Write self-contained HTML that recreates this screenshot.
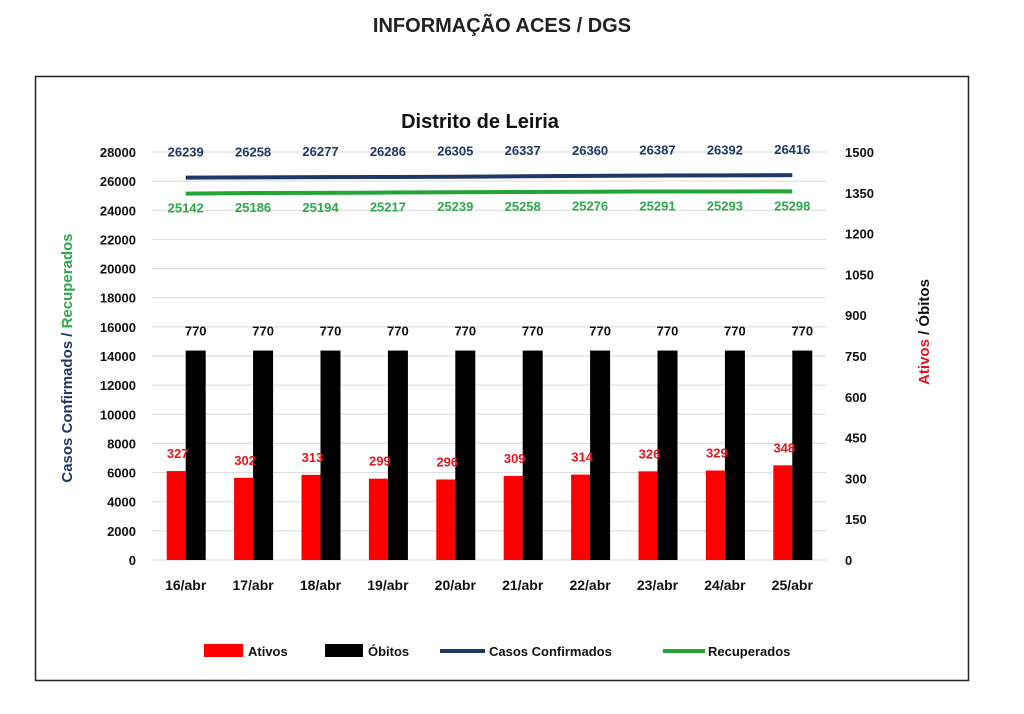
<!DOCTYPE html>
<html><head><meta charset="utf-8"><style>
body{margin:0;background:#fff;width:1024px;height:709px;overflow:hidden;font-family:"Liberation Sans",sans-serif}
</style></head><body>
<svg width="1024" height="709" font-family="Liberation Sans, sans-serif">
<text x="502" y="32" text-anchor="middle" font-size="20" font-weight="bold" fill="#222">INFORMAÇÃO ACES / DGS</text>
<rect x="35.5" y="76.5" width="933" height="604" fill="none" stroke="#222" stroke-width="1.5"/>
<text x="480" y="128" text-anchor="middle" font-size="20" font-weight="bold" fill="#111">Distrito de Leiria</text>
<g id="grid"></g><g id="bars"></g><g id="lines"></g><g id="labels"></g><g id="axes"></g>
<text transform="translate(72,358) rotate(-90)" text-anchor="middle" font-size="15" font-weight="bold"><tspan fill="#1f3864">Casos Confirmados / </tspan><tspan fill="#2ea84a">Recuperados</tspan></text>
<text transform="translate(929,332) rotate(-90)" text-anchor="middle" font-size="15" font-weight="bold"><tspan fill="#e8141c">Ativos</tspan><tspan fill="#111"> / Óbitos</tspan></text>
<g font-size="13" font-weight="bold" fill="#111">
<rect x="204" y="644" width="39" height="13" fill="#ff0000"/>
<text x="248" y="656">Ativos</text>
<rect x="325" y="644" width="38" height="13" fill="#000"/>
<text x="368" y="656">Óbitos</text>
<rect x="440" y="649" width="45" height="4" fill="#1f3864"/>
<text x="489" y="656">Casos Confirmados</text>
<rect x="663" y="649" width="42" height="4" fill="#22a535"/>
<text x="708" y="656">Recuperados</text>
</g>
</svg>
<script>
const categories=["16/abr","17/abr","18/abr","19/abr","20/abr","21/abr","22/abr","23/abr","24/abr","25/abr"];
const casos=[26239,26258,26277,26286,26305,26337,26360,26387,26392,26416];
const recuperados=[25142,25186,25194,25217,25239,25258,25276,25291,25293,25298];
const ativos=[327,302,313,299,296,309,314,326,329,348];
const obitos=[770,770,770,770,770,770,770,770,770,770];
const leftTicks=[0,2000,4000,6000,8000,10000,12000,14000,16000,18000,20000,22000,24000,26000,28000];
const rightTicks=[0,150,300,450,600,750,900,1050,1200,1350,1500];
const NS="http://www.w3.org/2000/svg";
const X0=152,X1=826,Y0=560,Y1=152;
const yL=v=>Y0-(v/28000)*(Y0-Y1);
const yR=v=>Y0-(v/1500)*(Y0-Y1);
const cw=(X1-X0)/categories.length;
const xc=i=>X0+(i+0.5)*cw;
function mk(tag,attrs,parent,text){const e=document.createElementNS(NS,tag);for(const k in attrs)e.setAttribute(k,attrs[k]);if(text!==undefined)e.textContent=text;document.getElementById(parent).appendChild(e);return e;}
leftTicks.forEach(t=>{
 const l=mk('line',{x1:X0,x2:X1,y1:yL(t),y2:yL(t),stroke:'#d9d9d9','stroke-width':1},'grid');
 
 
 const tx=mk('text',{x:136,y:yL(t)+5,'text-anchor':'end','font-size':13,'font-weight':'bold',fill:'#111'},'axes',t);
 
 
});
rightTicks.forEach(t=>{
 const tx=mk('text',{x:845,y:yR(t)+5,'font-size':13,'font-weight':'bold',fill:'#111'},'axes',t);
 
 
});
categories.forEach((c,i)=>{
 const cx=xc(i);
 const r=mk('rect',{x:cx-19,y:yR(ativos[i]),width:19,height:Y0-yR(ativos[i]),fill:'#ff0000'},'bars');
 
 
 const b=mk('rect',{x:cx,y:yR(obitos[i]),width:20,height:Y0-yR(obitos[i]),fill:'#000'},'bars');
 
 
 const t1=mk('text',{x:cx-8,y:yR(ativos[i])-13,'text-anchor':'middle','font-size':13,'font-weight':'bold',fill:'#e8141c'},'labels',ativos[i]);
 
 
 const t2=mk('text',{x:cx+10,y:yR(obitos[i])-15,'text-anchor':'middle','font-size':13,'font-weight':'bold',fill:'#111'},'labels',obitos[i]);
 
 
 const t3=mk('text',{x:cx,y:yL(casos[i])-21,'text-anchor':'middle','font-size':13,'font-weight':'bold',fill:'#1f3864'},'labels',casos[i]);
 
 
 const t4=mk('text',{x:cx,y:yL(recuperados[i])+19,'text-anchor':'middle','font-size':13,'font-weight':'bold',fill:'#2ea84a'},'labels',recuperados[i]);
 
 
 const cl=mk('text',{x:cx,y:590,'text-anchor':'middle','font-size':14,'font-weight':'bold',fill:'#111'},'axes',c);
 
 
});
const p1=mk('polyline',{points:casos.map((v,i)=>xc(i)+','+yL(v)).join(' '),fill:'none',stroke:'#1f3864','stroke-width':4},'lines');


const p2=mk('polyline',{points:recuperados.map((v,i)=>xc(i)+','+yL(v)).join(' '),fill:'none',stroke:'#22a535','stroke-width':4},'lines');


</script>
</body></html>
